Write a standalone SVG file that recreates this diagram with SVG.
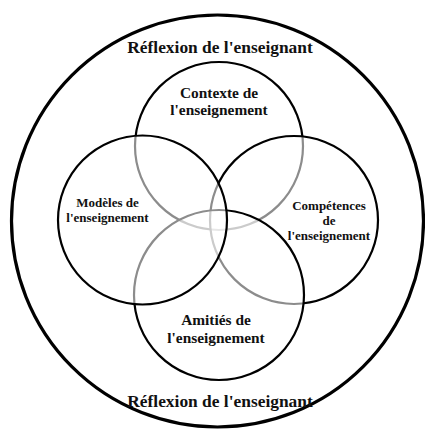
<svg xmlns="http://www.w3.org/2000/svg" width="425" height="430" viewBox="0 0 425 430">
  <style>
    .outer { fill: none; stroke: #000; stroke-width: 3.2; }
    .c { fill: #fff; fill-opacity: 0.55; stroke: #000; stroke-width: 2.2; }
    text { font-family: "Liberation Serif", "Times New Roman", serif; font-weight: bold; fill: #111; text-anchor: middle; }
    .big { font-size: 17.4px; }
    .mid { font-size: 15.4px; }
    .sm { font-size: 13px; }
  </style>
  <rect x="0" y="0" width="425" height="430" fill="#fff"/>
  <g id="reflexion">
    <circle class="outer" cx="217.5" cy="221" r="206"/>
    <text class="big" x="220" y="53">Réflexion de l'enseignant</text>
    <text class="big" x="220" y="407">Réflexion de l'enseignant</text>
  </g>
  <g id="contexte">
    <circle class="c" cx="219" cy="146" r="84"/>
    <text class="mid" x="219" y="98">Contexte de</text>
    <text class="mid" x="219" y="115">l'enseignement</text>
  </g>
  <g id="competences">
    <circle class="c" cx="294" cy="220" r="84"/>
    <text class="sm" x="329" y="210">Compétences</text>
    <text class="sm" x="329" y="225">de</text>
    <text class="sm" x="329" y="240">l'enseignement</text>
  </g>
  <g id="amities">
    <circle class="c" cx="219" cy="295" r="85"/>
    <text class="mid" x="216" y="325">Amitiés de</text>
    <text class="mid" x="216" y="343">l'enseignement</text>
  </g>
  <g id="modeles">
    <circle class="c" cx="142.5" cy="220" r="84.5"/>
    <text class="sm" x="107.5" y="207">Modèles de</text>
    <text class="sm" x="107.5" y="222">l'enseignement</text>
  </g>
  <g id="connectors"/>
</svg>
